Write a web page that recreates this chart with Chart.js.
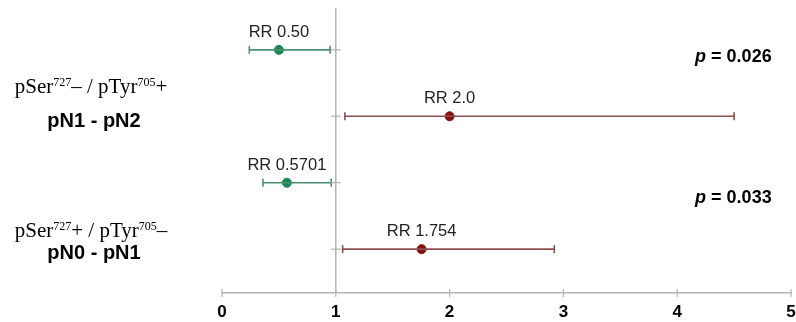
<!DOCTYPE html>
<html>
<head>
<meta charset="utf-8">
<script src="https://cdn.jsdelivr.net/npm/chart.js@4"></script>
<style>
  html, body { margin: 0; padding: 0; background: #fff; }
  #wrap { width: 796px; height: 322px; }
</style>
</head>
<body>
<div id="wrap"><canvas id="chart"></canvas></div>
<script>
// данные (читаем с картинки)
const rows = [1, 2, 3, 4];
const rr = [0.50, 2.0, 0.5701, 1.754];
const ciLow = [0.24, 1.08, 0.36, 1.06];
const ciHigh = [0.95, 4.5, 0.96, 2.92];
const rrLabels = ['RR 0.50', 'RR 2.0', 'RR 0.5701', 'RR 1.754'];
const rowGroup = ['low', 'high', 'low', 'high'];
const xTicks = [0, 1, 2, 3, 4, 5];
const groupTop = [['pSer', '727', '– / pTyr', '705', '+'], ['pSer', '727', '+ / pTyr', '705', '–']];
const groupBottom = ['pN1 - pN2', 'pN0 - pN1'];
const pValues = ['0.026', '0.033'];

const Y_MIN = 0.37, Y_MAX = 4.66;
const colors = {
  low: { line: '#4b8f70', point: '#1c8753' },
  high: { line: '#8c4f4f', point: '#86100f' }
};
const axisGrey = '#b4b4b4';

const datasets = [];

// линия RR = 1
datasets.push({
  data: [{ x: 1, y: Y_MIN }, { x: 1, y: Y_MAX }],
  borderColor: axisGrey, borderWidth: 1.5, pointRadius: 0, showLine: true
});
// маленькие засечки на линии RR = 1
datasets.push({
  data: rows.map(r => ({ x: 1, y: r })),
  showLine: false, pointStyle: 'line', pointRadius: 5,
  borderColor: axisGrey, pointBorderWidth: 1.2
});
// засечки на оси X (через ось насквозь)
datasets.push({
  data: xTicks.map(v => ({ x: v, y: Y_MAX })),
  showLine: false, pointStyle: 'line', rotation: 90, pointRadius: 4,
  borderColor: axisGrey, pointBorderWidth: 1.2, clip: false
});
// доверительные интервалы
rows.forEach((r, i) => {
  const c = colors[rowGroup[i]];
  datasets.push({
    data: [{ x: ciLow[i], y: r }, { x: ciHigh[i], y: r }],
    showLine: true, borderColor: c.line, borderWidth: 1.6,
    pointStyle: 'line', rotation: 90, pointRadius: 4,
    pointBorderColor: c.line, pointBorderWidth: 1.6
  });
});
// точки RR
datasets.push({
  data: rows.map((r, i) => ({ x: rr[i], y: r })),
  showLine: false, pointRadius: 4.5,
  pointBackgroundColor: rowGroup.map(g => colors[g].point),
  pointBorderColor: rowGroup.map(g => colors[g].point)
});

const labelsPlugin = {
  id: 'labels',
  afterDatasetsDraw(chart) {
    const ctx = chart.ctx;
    const xs = chart.scales.x, ys = chart.scales.y;
    ctx.save();
    ctx.fillStyle = '#222';
    ctx.font = '16.5px Arial, "Liberation Sans", sans-serif';
    ctx.textAlign = 'center';
    ctx.textBaseline = 'alphabetic';
    rows.forEach((r, i) => {
      ctx.fillText(rrLabels[i], xs.getPixelForValue(rr[i]), ys.getPixelForValue(r) - 13);
    });

    // p-значения
    ctx.fillStyle = '#000';
    ctx.textAlign = 'left';
    [1.18, 3.3].forEach((yv, k) => {
      const y = ys.getPixelForValue(yv);
      const rest = ' = ' + pValues[k];
      ctx.font = 'bold 18px Arial, "Liberation Sans", sans-serif';
      const wRest = ctx.measureText(rest).width;
      ctx.font = 'bold italic 18px Arial, "Liberation Sans", sans-serif';
      const wP = ctx.measureText('p').width;
      const right = xs.getPixelForValue(4.83);
      const x0 = right - wRest - wP;
      ctx.fillText('p', x0, y);
      ctx.font = 'bold 18px Arial, "Liberation Sans", sans-serif';
      ctx.fillText(rest, x0 + wP, y);
    });

    // подписи групп слева
    const big = '21px "Liberation Serif", "DejaVu Serif", serif';
    const small = '12px "Liberation Serif", "DejaVu Serif", serif';
    [[1.65, 2.16], [3.82, 4.15]].forEach((pos, k) => {
      const parts = groupTop[k];
      let w = 0;
      parts.forEach((p, j) => { ctx.font = j % 2 ? small : big; w += ctx.measureText(p).width; });
      let x = 91 - w / 2;
      const y = ys.getPixelForValue(pos[0]);
      ctx.textAlign = 'left';
      parts.forEach((p, j) => {
        ctx.font = j % 2 ? small : big;
        ctx.fillText(p, x, j % 2 ? y - 7 : y);
        x += ctx.measureText(p).width;
      });
      ctx.font = 'bold 20px Arial, "Liberation Sans", sans-serif';
      ctx.textAlign = 'center';
      ctx.fillText(groupBottom[k], 94, ys.getPixelForValue(pos[1]));
    });
    ctx.restore();
  }
};

new Chart(document.getElementById('chart'), {
  type: 'scatter',
  data: { datasets },
  options: {
    responsive: true,
    maintainAspectRatio: false,
    animation: false,
    layout: { autoPadding: false, padding: { left: 222, right: 0, top: 8, bottom: 0 } },
    plugins: { legend: { display: false }, tooltip: { enabled: false } },
    scales: {
      x: {
        type: 'linear', min: 0, max: 5,
        afterBuildTicks: axis => { axis.ticks = xTicks.map(v => ({ value: v })); },
        afterFit: axis => {
          axis.height = 29;
          axis.paddingLeft = 0;
          axis.paddingRight = 5;
        },
        border: { color: axisGrey, width: 1.5 },
        grid: { drawOnChartArea: false, drawTicks: false },
        ticks: {
          color: '#000', padding: 9,
          font: { family: 'Arial, "Liberation Sans", sans-serif', size: 17, weight: 'bold' }
        }
      },
      y: {
        type: 'linear', min: Y_MIN, max: Y_MAX, reverse: true, display: false
      }
    }
  },
  plugins: [labelsPlugin]
});
</script>
</body>
</html>
